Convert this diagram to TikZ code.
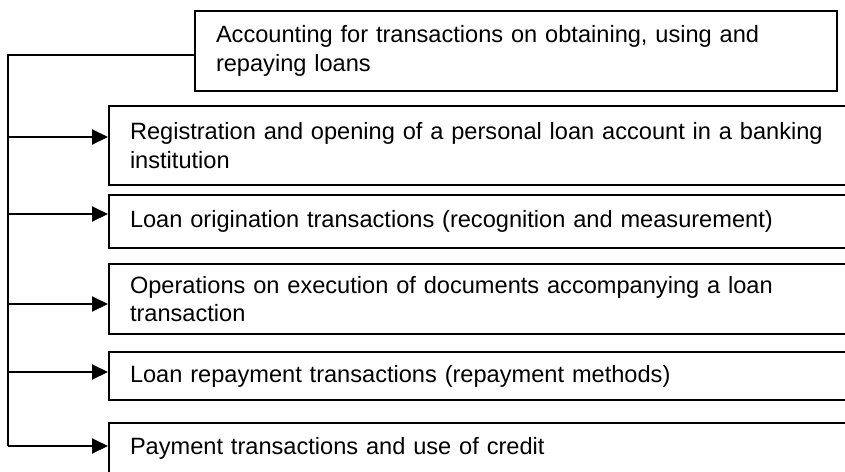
\documentclass[tikz,border=0pt]{standalone}
\usepackage{fontspec}
\setmainfont{Liberation Sans}
\usetikzlibrary{arrows.meta}

\newcommand*{\spinex}{8}
\newcommand*{\itemx}{108}
\newcommand*{\itemfont}{\fontsize{11.8}{14.2}\selectfont\hyphenpenalty=10000\relax}

\begin{document}
\begin{tikzpicture}
[
	x=0.5pt, y=-0.5pt,
	line width=1pt,
	item/.style={draw, rectangle, anchor=north west, align=left, text width=360pt,
		inner xsep=10.5pt, inner ysep=1pt, font=\itemfont},
	head/.style={item, text width=300pt},
	arr/.style={-{Triangle[length=8pt,width=7.5pt]}}
]
	\useasboundingbox (0,0) rectangle (845,471);

	% boxes
	\node[head, minimum height=40pt] (acc) at (194,10)
		{Accounting for transactions on obtaining, using and repaying loans};
	\node[item, minimum height=39.5pt] (reg) at (\itemx,105)
		{Registration and opening of a personal loan account in a banking institution};
	\node[item, minimum height=26.5pt] (orig) at (\itemx,194)
		{Loan origination transactions (recognition and measurement)};
	\node[item, minimum height=35pt] (docs) at (\itemx,263)
		{Operations on execution of documents accompanying a loan transaction};
	\node[item, minimum height=24pt] (repay) at (\itemx,351)
		{Loan repayment transactions (repayment methods)};
	\node[item, minimum height=25pt] (pay) at (\itemx,422)
		{Payment transactions and use of credit};

	% spine
	\coordinate (top) at (\spinex,55);
	\coordinate (bot) at (\spinex,446);
	\draw (acc.west |- top) -- (top) -- (bot);

	% branches
	\foreach \y/\b in {137/reg, 214/orig, 304/docs, 372/repay, 446/pay} {
		\coordinate (s\b) at (\spinex,\y);
		\draw[arr] (s\b) -- (s\b -| \b.west);
	}

\end{tikzpicture}
\end{document}
